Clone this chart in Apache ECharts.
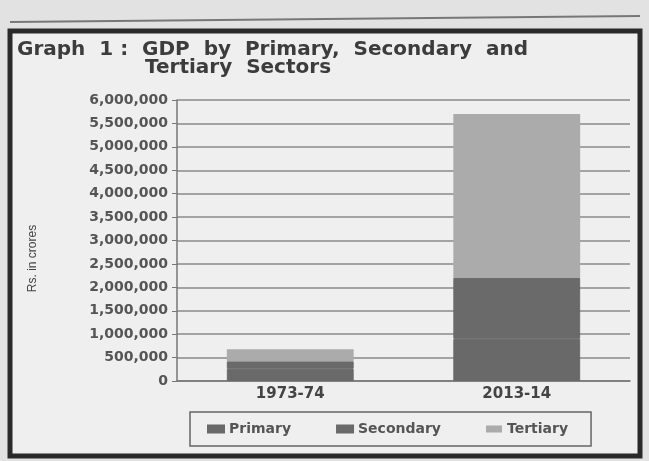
<!DOCTYPE html>
<html lang="en">
<head>
    <meta charset="UTF-8">
    <title>GDP by Primary, Secondary and Tertiary Sectors</title>
    <script src="https://cdn.jsdelivr.net/npm/echarts@6/dist/echarts.min.js"></script>
    <style>
        html, body {
            margin: 0;
            padding: 0;
            background: #e2e2e2;
        }

        #chart {
            width: 649px;
            height: 461px;
        }
    </style>
</head>
<body>
<div id="chart"></div>
<script>
    // 年份
    var years = ['1973-74', '2013-14']
    // 各部门 GDP (Rs. in crores)
    var primary = [260000, 900000]
    var secondary = [160000, 1300000]
    var tertiary = [260000, 3500000]
    var sectorNames = ['Primary', 'Secondary', 'Tertiary']

    var font = 'DejaVu Sans'
    var chart = echarts.init(document.getElementById('chart'))
    var option = {
        backgroundColor: '#e2e2e2',
        animation: false,
        graphic: [{
            type: 'rect',
            z: -10,
            shape: {x: 10, y: 31, width: 630, height: 425},
            style: {fill: '#efefef', stroke: '#2a2a2a', lineWidth: 5}
        }, {
            type: 'line',
            z: -10,
            shape: {x1: 10, y1: 22, x2: 640, y2: 16},
            style: {stroke: '#777', lineWidth: 2}
        }],
        title: [{
            text: 'Graph  1 :  GDP  by  Primary,  Secondary  and',
            left: 12,
            top: 35,
            textStyle: {fontFamily: font, fontSize: 20, fontWeight: 'bold', color: '#3c3c3c'}
        }, {
            text: 'Tertiary  Sectors',
            left: 140,
            top: 53,
            textStyle: {fontFamily: font, fontSize: 20, fontWeight: 'bold', color: '#3c3c3c'}
        }],
        legend: {
            data: sectorNames,
            left: 190,
            top: 412,
            padding: [10, 23, 10, 17],
            itemGap: 45,
            itemWidth: 16,
            itemHeight: 7,
            icon: 'rect',
            borderColor: '#666',
            borderWidth: 1.5,
            textStyle: {fontFamily: font, fontSize: 14, fontWeight: 'bold', color: '#555'}
        },
        grid: {
            left: 177,
            right: 19,
            top: 100,
            bottom: 80
        },
        xAxis: {
            type: 'category',
            data: years,
            axisLine: {lineStyle: {color: '#777', width: 1.5}},
            axisTick: {show: false},
            axisLabel: {fontFamily: font, fontSize: 15, fontWeight: 'bold', color: '#444', margin: 6}
        },
        yAxis: {
            type: 'value',
            min: 0,
            max: 6000000,
            interval: 500000,
            name: 'Rs. in crores',
            nameLocation: 'middle',
            nameGap: 138,
            nameTextStyle: {fontFamily: 'Liberation Sans', fontSize: 12, color: '#444', padding: [0, 36, 0, 0]},
            axisLine: {show: true, lineStyle: {color: '#777', width: 1.5}},
            axisTick: {show: true, length: 5, lineStyle: {color: '#777'}},
            splitLine: {lineStyle: {color: '#8a8a8a', width: 1.5}},
            axisLabel: {
                fontFamily: font, fontSize: 14, fontWeight: 'bold', color: '#555', margin: 9,
                formatter: function (v) {
                    return v.toLocaleString('en-US')
                }
            }
        },
        series: [{
            name: 'Primary',
            type: 'bar',
            stack: 'gdp',
            barWidth: '56%',
            itemStyle: {color: '#696969', borderColor: '#696969', borderWidth: 1},
            data: primary
        }, {
            name: 'Secondary',
            type: 'bar',
            stack: 'gdp',
            itemStyle: {color: '#6a6a6a', borderColor: '#6a6a6a', borderWidth: 1},
            data: secondary
        }, {
            name: 'Tertiary',
            type: 'bar',
            stack: 'gdp',
            itemStyle: {color: '#ababab'},
            data: tertiary
        }]
    }
    chart.setOption(option)
</script>
</body>
</html>
